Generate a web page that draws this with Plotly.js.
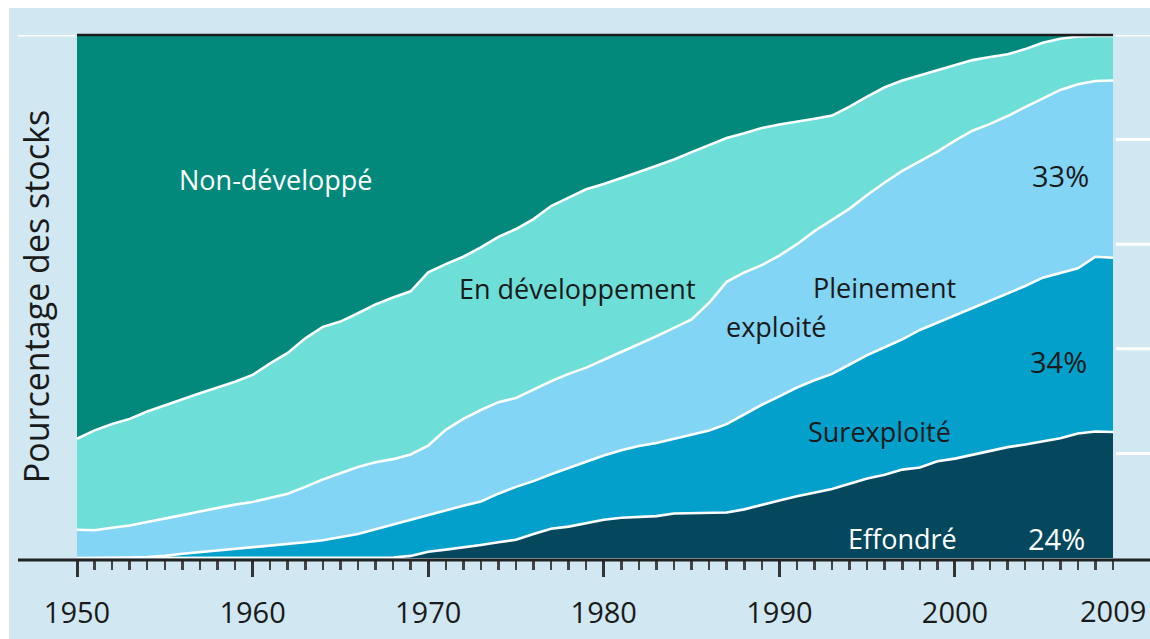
<!DOCTYPE html>
<html>
<head>
<meta charset="utf-8">
<script src="https://cdn.plot.ly/plotly-3.0.1.min.js"></script>
<style>
  html, body { margin: 0; padding: 0; background: #ffffff; }
  #chart { width: 1150px; height: 639px; }
</style>
</head>
<body>
<div id="chart"></div>
<script>
// Years 1950..2009
const years = [1950,1951,1952,1953,1954,1955,1956,1957,1958,1959,
               1960,1961,1962,1963,1964,1965,1966,1967,1968,1969,
               1970,1971,1972,1973,1974,1975,1976,1977,1978,1979,
               1980,1981,1982,1983,1984,1985,1986,1987,1988,1989,
               1990,1991,1992,1993,1994,1995,1996,1997,1998,1999,
               2000,2001,2002,2003,2004,2005,2006,2007,2008,2009];

// Share of stocks (%) per category
const effondre = [0,0,0,0,0,0,0,0,0,0,
                  0,0,0,0,0,0,0,0,0.1,0.4,
                  1.2,1.6,2.0,2.5,3.0,3.5,4.6,5.6,6.0,6.7,
                  7.3,7.7,7.8,8.0,8.5,8.6,8.6,8.7,9.3,10.2,
                  11.0,11.8,12.5,13.2,14.2,15.2,15.9,16.9,17.3,18.5,
                  19.0,19.7,20.5,21.2,21.7,22.3,22.9,23.8,24.2,24.1];

const surexploite = [0,0,0,0.1,0.2,0.4,0.8,1.1,1.5,1.8,
                     2.0,2.3,2.6,3.0,3.4,4.0,4.6,5.5,6.3,6.9,
                     7.1,7.6,8.0,8.3,9.3,10.1,10.1,10.4,11.2,11.8,
                     12.3,12.9,13.6,14.0,14.3,14.9,15.8,16.9,18.1,19.1,
                     19.9,20.8,21.5,22.0,22.8,23.6,24.4,24.9,26.3,26.5,
                     27.3,28.1,28.7,29.4,30.3,31.3,31.6,31.6,33.4,33.3];

const pleinement = [5.4,5.3,5.8,6.1,6.7,7.1,7.4,7.8,8.1,8.4,
                    8.7,9.2,9.7,10.6,11.6,12.2,12.8,12.8,12.5,12.5,
                    13.2,15.3,16.6,17.5,17.5,17.0,17.5,17.8,18.0,17.9,
                    18.3,18.8,19.4,20.4,21.2,22.1,24.4,27.2,27.2,26.7,
                    26.9,27.4,28.5,29.4,29.8,30.6,31.5,32.2,32.2,32.7,
                    33.5,33.9,33.8,33.9,34.2,34.3,35.0,35.2,33.6,33.9];

const developpement = [17.4,19.1,19.8,20.4,21.1,21.7,22.1,22.6,23.0,23.5,
                       24.3,25.7,26.9,28.4,29.2,29.0,29.4,30.2,30.9,31.2,
                       33.1,31.7,31.0,31.1,31.6,32.3,32.6,33.5,33.7,34.1,
                       33.6,33.2,33.0,32.6,32.2,32.0,30.2,27.5,26.6,26.2,
                       25.1,23.4,21.5,20.0,19.5,18.8,18.2,17.3,16.5,15.5,
                       14.4,13.5,12.8,11.8,11.1,10.6,9.8,9.1,8.6,8.5];

const nonDeveloppe = [77.2,75.6,74.4,73.4,72.0,70.8,69.7,68.5,67.4,66.3,
                      65.0,62.8,60.8,58.0,55.8,54.8,53.2,51.5,50.2,49.0,
                      45.4,43.8,42.4,40.6,38.6,37.1,35.2,32.7,31.1,29.5,
                      28.5,27.4,26.2,25.0,23.8,22.4,21.0,19.7,18.8,17.8,
                      17.1,16.6,16.0,15.4,13.7,11.8,10.0,8.7,7.7,6.8,
                      5.8,4.8,4.2,3.7,2.7,1.5,0.7,0.3,0.2,0.2];

const categories = ["Effondré", "Surexploité", "Pleinement exploité", "En développement", "Non-développé"];
const colors = ["#05485d", "#03a0cc", "#82d5f5", "#6ddfd8", "#02897b"];
const seriesList = [effondre, surexploite, pleinement, developpement, nonDeveloppe];

const tickVals = [1950, 1960, 1970, 1980, 1990, 2000];
const tickText = ["1950", "1960", "1970", "1980", "1990", "2000"];
const lastTick = "2009";

const traces = seriesList.map((vals, i) => ({
  type: "scatter",
  mode: "lines",
  x: years,
  y: vals,
  name: categories[i],
  stackgroup: "stocks",
  fillcolor: colors[i],
  line: { color: "#ffffff", width: i === 4 ? 0 : 2.6, shape: "linear" },
  hoverinfo: "x+y+name"
}));

const font = "'Open Sans', 'Noto Sans', 'DejaVu Sans', sans-serif";

// paper-coordinate helpers (plot area: x 77..1113, y 35..558)
const px = v => (v - 77) / 1036;
const py = v => (558 - v) / 523;

const shapes = [
  // light blue card background (white border at top/left)
  { type: "rect", xref: "paper", yref: "paper", x0: px(9), x1: px(1152), y0: py(641), y1: py(8),
    fillcolor: "#d1e7f1", line: { width: 0 }, layer: "below" },
  // top black edge
  { type: "line", xref: "paper", yref: "paper", x0: 0, x1: 1, y0: py(35), y1: py(35),
    line: { color: "#1c1c1c", width: 2.5 } },
  // bottom axis line
  { type: "line", xref: "paper", yref: "paper", x0: px(18), x1: px(1150), y0: py(560), y1: py(560),
    line: { color: "#222222", width: 3 } },
  // left white stub at 100%
  { type: "line", xref: "paper", yref: "y", x0: px(18), x1: px(75), y0: 100, y1: 100,
    line: { color: "#ffffff", width: 3 } }
];
[100, 80, 60, 40, 20].forEach(v => {
  shapes.push({ type: "line", xref: "paper", yref: "y", x0: px(1116), x1: px(1150), y0: v, y1: v,
    line: { color: "#ffffff", width: 3 } });
});

const ann = (text, x, y, color, size) => ({
  text: text, x: x, y: y, xref: "x", yref: "y", showarrow: false,
  font: { family: font, size: size, color: color }, xanchor: "center", yanchor: "middle"
});

const annotations = [
  ann("Non-développé", 1961.3, 72.3, "#ffffff", 27),
  ann("En développement", 1978.5, 51.6, "#1a1a1a", 27),
  ann("Pleinement", 1996.0, 51.8, "#1a1a1a", 27),
  ann("exploité", 1989.8, 44.2, "#1a1a1a", 27),
  ann("33%", 2006.0, 73.2, "#1a1a1a", 29),
  ann("34%", 2005.9, 37.5, "#1a1a1a", 29),
  ann("Surexploité", 1995.7, 24.1, "#1a1a1a", 27),
  ann("Effondré", 1997.0, 3.8, "#ffffff", 27),
  ann("24%", 2005.8, 3.8, "#ffffff", 29),
  { text: lastTick, x: 2009, y: py(610), xref: "x", yref: "paper", showarrow: false,
    font: { family: font, size: 29, color: "#1a1a1a" }, xanchor: "center", yanchor: "middle" }
];

const layout = {
  width: 1150, height: 639,
  margin: { l: 77, r: 37, t: 35, b: 81 },
  paper_bgcolor: "#ffffff",
  plot_bgcolor: "rgba(0,0,0,0)",
  showlegend: false,
  font: { family: font, color: "#1a1a1a" },
  xaxis: {
    range: [1950, 2009],
    tickmode: "array", tickvals: tickVals, ticktext: tickText,
    ticks: "outside", ticklen: 18, tickwidth: 3, tickcolor: "#333333",
    minor: { tickmode: "linear", tick0: 1950, dtick: 1, ticks: "outside", ticklen: 11, tickwidth: 2.5, tickcolor: "#444444", showgrid: false },
    ticklabelstandoff: 11,
    tickfont: { family: font, size: 29, color: "#1a1a1a" },
    showgrid: false, zeroline: false, showline: false, fixedrange: true
  },
  yaxis: {
    range: [0, 100],
    showticklabels: false, ticks: "",
    showgrid: false, zeroline: false, showline: false, fixedrange: true,
    title: { text: "Pourcentage des stocks", font: { family: font, size: 34, color: "#1a1a1a" }, standoff: 16 }
  },
  shapes: shapes,
  annotations: annotations
};

Plotly.newPlot("chart", traces, layout, { displayModeBar: false, staticPlot: true });
</script>
</body>
</html>
